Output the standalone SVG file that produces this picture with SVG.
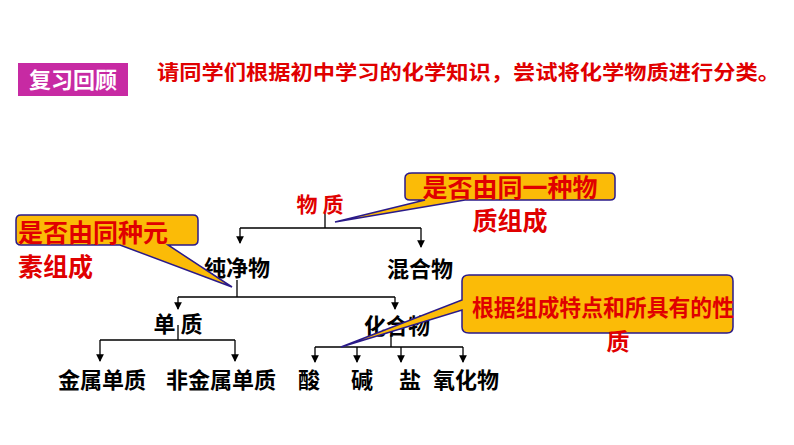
<svg xmlns="http://www.w3.org/2000/svg" width="794" height="445" viewBox="0 0 794 445">
<style>
.t{font-family:"Noto Sans CJK SC",sans-serif;font-weight:bold;font-size:22px;fill:#000;text-anchor:middle}
.r{font-family:"Noto Sans CJK SC",sans-serif;font-weight:bold;fill:#e00000}
.ln{stroke:#000;stroke-width:1.3;fill:none}
.co{fill:#fbbb07;stroke:#2a1a8a;stroke-width:1.5}
</style>
<defs><marker id="a" viewBox="0 0 8 8" refX="7" refY="4" markerWidth="6" markerHeight="6" orient="auto"><path d="M0,0L8,4L0,8z" fill="#000"/></marker></defs>
<rect width="794" height="445" fill="#fff"/>
<g id="header">
<rect x="18" y="63" width="110" height="33" fill="#c72aa3"/>
<text x="73" y="88" font-family="Noto Sans CJK SC,sans-serif" font-weight="bold" font-size="22" fill="#fff" text-anchor="middle">复习回顾</text>
<text class="r" x="157" y="80" font-size="20" textLength="623" lengthAdjust="spacingAndGlyphs">请同学们根据初中学习的化学知识，尝试将化学物质进行分类。</text>
</g>
<g id="connectors">
<path class="ln" d="M325,213V228M240,228H421"/>
<path class="ln" d="M240,228V243" marker-end="url(#a)"/>
<path class="ln" d="M421,228V247" marker-end="url(#a)"/>
<path class="ln" d="M237,280V297M178,297H395"/>
<path class="ln" d="M178,297V309" marker-end="url(#a)"/>
<path class="ln" d="M395,297V309" marker-end="url(#a)"/>
<path class="ln" d="M178,325V340M100,340H235"/>
<path class="ln" d="M100,340V361" marker-end="url(#a)"/>
<path class="ln" d="M235,340V361" marker-end="url(#a)"/>
<path class="ln" d="M391,335V347M315,347H463"/>
<path class="ln" d="M315,347V362" marker-end="url(#a)"/>
<path class="ln" d="M357,347V362" marker-end="url(#a)"/>
<path class="ln" d="M401,347V362" marker-end="url(#a)"/>
<path class="ln" d="M463,347V362" marker-end="url(#a)"/>
</g>
<g id="n-wuzhi"><text class="r" x="320" y="212" font-size="21" text-anchor="middle">物 质</text></g>
<g id="n-chun"><text class="t" x="237" y="276">纯净物</text></g>
<g id="n-hun"><text class="t" x="420" y="277">混合物</text></g>
<g id="n-dan"><text class="t" x="178" y="332">单 质</text></g>
<g id="n-hua"><text class="t" x="397" y="334">化合物</text></g>
<g id="n-jin"><text class="t" x="102" y="388">金属单质</text></g>
<g id="n-fei"><text class="t" x="221" y="388">非金属单质</text></g>
<g id="n-suan"><text class="t" x="309" y="388">酸</text></g>
<g id="n-jian"><text class="t" x="362" y="388">碱</text></g>
<g id="n-yan"><text class="t" x="410" y="388">盐</text></g>
<g id="n-yang"><text class="t" x="466" y="388">氧化物</text></g>
<g id="callout1">
<path class="co" d="M412,173H610Q615,173 615,178V196Q615,200 610,200H465L335,222L425,200H410Q405,200 405,196V178Q405,173 412,173Z"/>
<text class="r" x="510" y="197" font-size="25" text-anchor="middle">是否由同一种物</text>
<text class="r" x="510" y="230" font-size="25" text-anchor="middle">质组成</text>
</g>
<g id="callout2">
<path class="co" d="M21,215H193Q198,215 198,220V240Q198,245 193,245H168L232,287L120,245H21Q16,245 16,240V220Q16,215 21,215Z"/>
<text class="r" x="18" y="242" font-size="25">是否由同种元</text>
<text class="r" x="18" y="276" font-size="25">素组成</text>
</g>
<g id="callout3">
<path class="co" d="M469,275H727Q733,275 733,281V327Q733,333 727,333H469Q462,333 462,327V310L341,347L462,300V281Q462,275 469,275Z"/>
<text class="r" x="472" y="316" font-size="23" textLength="262" lengthAdjust="spacingAndGlyphs">根据组成特点和所具有的性</text>
<text class="r" x="618" y="350" font-size="23" text-anchor="middle">质</text>
</g>
</svg>
